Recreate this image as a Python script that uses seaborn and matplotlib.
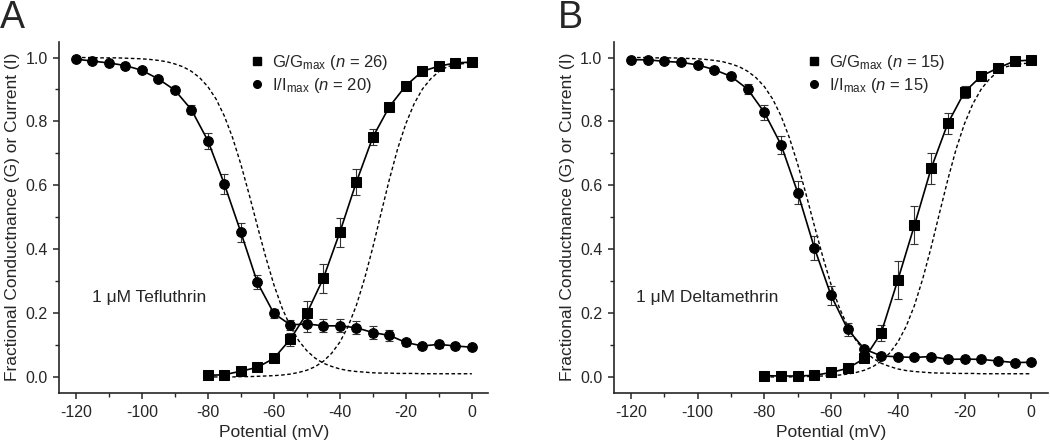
import numpy as np
import pandas as pd
import matplotlib
matplotlib.use("Agg")
import matplotlib.pyplot as plt
from matplotlib.lines import Line2D
from matplotlib.ticker import MultipleLocator
import seaborn as sns

# ---- data ----
v_inact = [-120, -115, -110, -105, -100, -95, -90, -85, -80, -75, -70, -65, -60,
           -55, -50, -45, -40, -35, -30, -25, -20, -15, -10, -5, 0]
v_act = [-80, -75, -70, -65, -60, -55, -50, -45, -40, -35, -30, -25, -20,
         -15, -10, -5, 0]

# Panel A: 1 uM tefluthrin
tef_i = [0.995, 0.989, 0.983, 0.975, 0.960, 0.933, 0.898, 0.837, 0.740, 0.604,
         0.453, 0.296, 0.199, 0.163, 0.166, 0.160, 0.160, 0.154, 0.139, 0.130,
         0.108, 0.097, 0.102, 0.097, 0.093]
tef_i_err = [0.003, 0.003, 0.003, 0.004, 0.005, 0.007, 0.010, 0.015, 0.025, 0.030,
             0.030, 0.022, 0.015, 0.015, 0.025, 0.020, 0.020, 0.020, 0.020, 0.016,
             0.012, 0.010, 0.010, 0.010, 0.006]
tef_g = [0.005, 0.007, 0.018, 0.030, 0.058, 0.118, 0.199, 0.309, 0.453, 0.610,
         0.751, 0.846, 0.912, 0.957, 0.973, 0.983, 0.986]
tef_g_err = [0.003, 0.003, 0.004, 0.005, 0.007, 0.020, 0.040, 0.045, 0.045, 0.040,
             0.025, 0.012, 0.008, 0.005, 0.005, 0.004, 0.004]

# Panel B: 1 uM deltamethrin
del_i = [0.993, 0.993, 0.988, 0.985, 0.977, 0.962, 0.941, 0.901, 0.828, 0.727,
         0.577, 0.404, 0.255, 0.149, 0.087, 0.066, 0.063, 0.061, 0.064, 0.055,
         0.056, 0.055, 0.050, 0.045, 0.046]
del_i_err = [0.003, 0.003, 0.003, 0.004, 0.005, 0.006, 0.008, 0.015, 0.022, 0.028,
             0.035, 0.037, 0.030, 0.020, 0.006, 0.004, 0.004, 0.004, 0.004, 0.004,
             0.004, 0.004, 0.004, 0.004, 0.004]
del_g = [0.004, 0.003, 0.003, 0.005, 0.014, 0.027, 0.058, 0.137, 0.303, 0.475,
         0.653, 0.794, 0.892, 0.942, 0.967, 0.989, 0.992]
del_g_err = [0.003, 0.003, 0.003, 0.003, 0.004, 0.005, 0.006, 0.025, 0.060, 0.060,
             0.048, 0.033, 0.020, 0.010, 0.006, 0.005, 0.004]

# control curves (dashed), read every 2.5 mV
v_ctrl_inact = [-120, -117.5, -115, -112.5, -110, -107.5, -105, -102.5, -100, -97.5,
                -95, -92.5, -90, -87.5, -85, -82.5, -80, -77.5, -75, -72.5, -70,
                -67.5, -65, -62.5, -60, -57.5, -55, -52.5, -50, -47.5, -45, -42.5,
                -40, -37.5, -35, -32.5, -30, -27.5, -25, -22.5, -20, -17.5, -15,
                -12.5, -10, -7.5, -5, -2.5, 0]
ctrl_inact = [1.000, 1.000, 1.000, 0.999, 0.999, 0.999, 0.998, 0.997, 0.996, 0.994,
              0.991, 0.987, 0.980, 0.971, 0.957, 0.937, 0.909, 0.870, 0.817, 0.749,
              0.666, 0.572, 0.473, 0.377, 0.289, 0.216, 0.158, 0.114, 0.082, 0.059,
              0.043, 0.033, 0.025, 0.020, 0.017, 0.015, 0.013, 0.012, 0.012, 0.011,
              0.011, 0.011, 0.010, 0.010, 0.010, 0.010, 0.010, 0.010, 0.010]
v_ctrl_act = [-80, -77.5, -75, -72.5, -70, -67.5, -65, -62.5, -60, -57.5, -55,
              -52.5, -50, -47.5, -45, -42.5, -40, -37.5, -35, -32.5, -30, -27.5,
              -25, -22.5, -20, -17.5, -15, -12.5, -10, -7.5, -5, -2.5, 0]
ctrl_act = [0.000, 0.000, 0.000, 0.000, 0.001, 0.001, 0.002, 0.003, 0.004, 0.006,
            0.009, 0.014, 0.021, 0.032, 0.049, 0.074, 0.109, 0.158, 0.224, 0.308,
            0.406, 0.513, 0.618, 0.714, 0.793, 0.855, 0.901, 0.933, 0.956, 0.971,
            0.978, 0.981, 0.983]

panels = [
    ("A", "1 \u03bcM Tefluthrin", tef_g, tef_g_err, tef_i, tef_i_err, 26, 20),
    ("B", "1 \u03bcM Deltamethrin", del_g, del_g_err, del_i, del_i_err, 15, 15),
]

sns.set_style("ticks")
plt.rcParams['font.family'] = ['Liberation Sans', 'DejaVu Sans']
plt.rcParams['mathtext.fontset'] = 'custom'
plt.rcParams['mathtext.rm'] = 'Liberation Sans'
plt.rcParams['mathtext.it'] = 'Liberation Sans:italic'
plt.rcParams['axes.unicode_minus'] = False

fig = plt.figure(figsize=(10.5, 4.47), dpi=100)
axes_pos = [[0.0565, 0.121, 0.4086, 0.786], [0.585, 0.121, 0.413, 0.786]]
letter_x = [0.0, 0.531]
dash = (0, (2.6, 1.8))

for (letter, label, g, g_err, i_, i_err, n_g, n_i), pos, lx in zip(panels, axes_pos, letter_x):
    ax = fig.add_axes(pos)
    # control fits (dashed)
    sns.lineplot(x=v_ctrl_inact, y=ctrl_inact, ax=ax, color="black", lw=1.0,
                 linestyle=dash, zorder=1)
    sns.lineplot(x=v_ctrl_act, y=ctrl_act, ax=ax, color="black", lw=1.0,
                 linestyle=dash, zorder=1)
    # error bars
    ax.errorbar(v_inact, i_, yerr=i_err, fmt="none", ecolor="#333333",
                elinewidth=0.8, capsize=3, capthick=0.8, zorder=2)
    ax.errorbar(v_act, g, yerr=g_err, fmt="none", ecolor="#333333",
                elinewidth=0.8, capsize=3, capthick=0.8, zorder=2)
    # data + solid curves
    sns.lineplot(x=v_inact, y=i_, ax=ax, color="black", lw=1.2, marker="o",
                 markersize=7, markeredgecolor="black", zorder=3)
    sns.lineplot(x=v_act, y=g, ax=ax, color="black", lw=1.2, marker="s",
                 markersize=7, markeredgecolor="black", zorder=3)

    ax.set_xlim(-125, 5)
    ax.set_ylim(-0.05, 1.05)
    ax.xaxis.set_major_locator(MultipleLocator(20))
    ax.xaxis.set_minor_locator(MultipleLocator(10))
    ax.yaxis.set_major_locator(MultipleLocator(0.2))
    ax.yaxis.set_minor_locator(MultipleLocator(0.1))
    ax.yaxis.set_major_formatter(matplotlib.ticker.FormatStrFormatter("%.1f"))
    ax.tick_params(which="major", direction="out", length=4.5, width=1.1,
                   labelsize=11.5, pad=4)
    ax.tick_params(which="minor", direction="out", length=3, width=1.0)
    for s in ("top", "right"):
        ax.spines[s].set_visible(False)
    for s in ("left", "bottom"):
        ax.spines[s].set_linewidth(1.2)
    ax.set_xlabel("Potential (mV)", fontsize=12.5)
    ax.set_ylabel("Fractional Conductnance (G) or Current (I)", fontsize=12.5)

    ax.text(-115 if letter == "A" else -118.5, 0.25, label, fontsize=12.5,
            ha="left", va="center")

    handles = [
        Line2D([], [], ls="none", marker="s", color="black", markersize=5.5),
        Line2D([], [], ls="none", marker="o", color="black", markersize=5.5),
    ]
    labels = [r"G/G$_{\mathrm{max}}$ ($\it{n}$ = %d)" % n_g,
              r"I/I$_{\mathrm{max}}$ ($\it{n}$ = %d)" % n_i]
    ax.legend(handles, labels, loc="upper left", bbox_to_anchor=(0.41, 1.0),
              frameon=False, fontsize=12, handletextpad=0.3, labelspacing=0.2,
              borderaxespad=0.3, handlelength=1.2)

    fig.text(lx, 1.0, letter, fontsize=27, ha="left", va="top")

plt.savefig("out.png", dpi=100)
